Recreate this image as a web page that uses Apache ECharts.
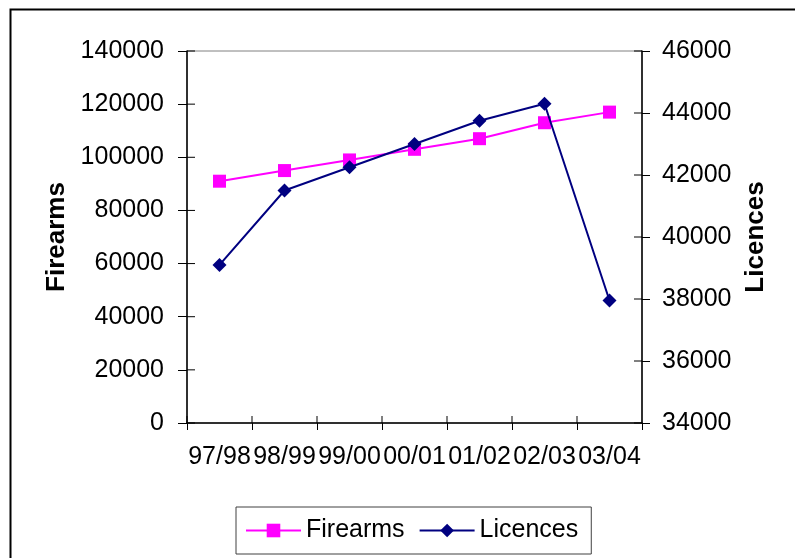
<!DOCTYPE html>
<html>
<head>
<meta charset="utf-8">
<style>
  html, body { margin: 0; padding: 0; background: #fff; }
  #chart { width: 795px; height: 558px; }
</style>
<script src="https://cdn.jsdelivr.net/npm/echarts@6/dist/echarts.min.js"></script>
</head>
<body>
<div id="chart"></div>
<script>
// Financial years
const years = ['97/98', '98/99', '99/00', '00/01', '01/02', '02/03', '03/04'];
// Registered firearms (left axis)
const firearms = [91000, 95000, 99000, 103000, 107000, 113000, 117000];
// Licences on issue (right axis)
const licences = [39100, 41500, 42250, 43000, 43750, 44300, 37950];
// Tick values of both value axes
const firearmsTicks = [0, 20000, 40000, 60000, 80000, 100000, 120000, 140000];
const licencesTicks = [34000, 36000, 38000, 40000, 42000, 44000, 46000];

const FONT = "'Liberation Sans', Arial, sans-serif";
const labelStyle = { color: '#000', fontFamily: FONT, fontSize: 25 };
const nameStyle = { color: '#000', fontFamily: FONT, fontSize: 26, fontWeight: 'bold' };
const plain = v => String(v);

const chart = echarts.init(document.getElementById('chart'));

// Inner halves of the crossing tick marks; the outer halves come from the axes.
function yInnerTicks(axisIndex, ticks, side) {
  return {
    type: 'custom',
    coordinateSystem: 'cartesian2d',
    yAxisIndex: axisIndex,
    silent: true,
    z: 5,
    encode: { x: 0, y: 1 },
    data: ticks.map(v => [0, v]),
    renderItem: (params, api) => {
      const cs = params.coordSys;
      const y = api.coord([0, api.value(1)])[1];
      const x = side === 'left' ? cs.x : cs.x + cs.width;
      const dir = side === 'left' ? 1 : -1;
      return {
        type: 'line',
        shape: { x1: x, y1: y, x2: x + dir * 8, y2: y },
        style: { stroke: '#000', lineWidth: 1 }
      };
    }
  };
}

function xInnerTicks() {
  return {
    type: 'custom',
    coordinateSystem: 'cartesian2d',
    silent: true,
    z: 5,
    encode: { x: 0, y: 1 },
    data: years.map((c, i) => [i, 0]),
    renderItem: (params, api) => {
      const cs = params.coordSys;
      const band = api.size([1, 0])[0];
      const x = api.coord([api.value(0), 0])[0] - band / 2;
      const y = cs.y + cs.height;
      return {
        type: 'line',
        shape: { x1: x, y1: y, x2: x, y2: y - 7 },
        style: { stroke: '#000', lineWidth: 1 }
      };
    }
  };
}

chart.setOption({
  animation: false,
  backgroundColor: '#fff',
  graphic: [{
    type: 'rect',
    shape: { x: 10.5, y: 9.5, width: 900, height: 900 },
    style: { fill: 'rgba(0,0,0,0)', stroke: '#000', lineWidth: 2 },
    silent: true
  }],
  grid: {
    left: 187, right: 153, top: 51, bottom: 135,
    show: true, borderColor: '#808080', borderWidth: 1,
    outerBoundsMode: 'none'
  },
  legend: {
    left: 236, top: 507,
    padding: [11, 13, 11, 9],
    borderColor: '#404040', borderWidth: 1,
    itemWidth: 55, itemHeight: 17, itemGap: 14,
    textStyle: { color: '#000', fontFamily: FONT, fontSize: 25 },
    data: ['Firearms', 'Licences']
  },
  xAxis: {
    type: 'category',
    data: years,
    boundaryGap: true,
    axisLine: { show: true, lineStyle: { color: '#000', width: 1.5 } },
    axisTick: { show: true, length: 7, lineStyle: { color: '#000', width: 1 } },
    axisLabel: Object.assign({ interval: 0, margin: 22, hideOverlap: false }, labelStyle),
    splitLine: { show: false }
  },
  yAxis: [{
    type: 'value',
    position: 'left',
    min: firearmsTicks[0],
    max: firearmsTicks[firearmsTicks.length - 1],
    interval: 20000,
    name: 'Firearms',
    nameLocation: 'middle',
    nameGap: 114,
    nameTextStyle: nameStyle,
    axisLine: { show: true, lineStyle: { color: '#000', width: 1.5 } },
    axisTick: { show: true, length: 9, lineStyle: { color: '#000', width: 1 } },
    axisLabel: Object.assign({ margin: 23, formatter: plain }, labelStyle),
    splitLine: { show: false }
  }, {
    type: 'value',
    position: 'right',
    min: licencesTicks[0],
    max: licencesTicks[licencesTicks.length - 1],
    interval: 2000,
    name: 'Licences',
    nameLocation: 'middle',
    nameGap: 94,
    nameRotate: 90,
    nameTextStyle: nameStyle,
    axisLine: { show: true, lineStyle: { color: '#000', width: 1.5 } },
    axisTick: { show: true, length: 8, lineStyle: { color: '#000', width: 1 } },
    axisLabel: Object.assign({ margin: 20, formatter: plain }, labelStyle),
    splitLine: { show: false }
  }],
  series: [{
    name: 'Firearms',
    type: 'line',
    yAxisIndex: 0,
    data: firearms,
    symbol: 'rect',
    symbolSize: 13,
    lineStyle: { color: '#FF00FF', width: 2 },
    itemStyle: { color: '#FF00FF' },
    z: 3
  }, {
    name: 'Licences',
    type: 'line',
    yAxisIndex: 1,
    data: licences,
    symbol: 'diamond',
    symbolSize: 14,
    lineStyle: { color: '#000080', width: 2 },
    itemStyle: { color: '#000080' },
    z: 4
  },
  yInnerTicks(0, firearmsTicks, 'left'),
  yInnerTicks(1, licencesTicks, 'right'),
  xInnerTicks()]
});
</script>
</body>
</html>
